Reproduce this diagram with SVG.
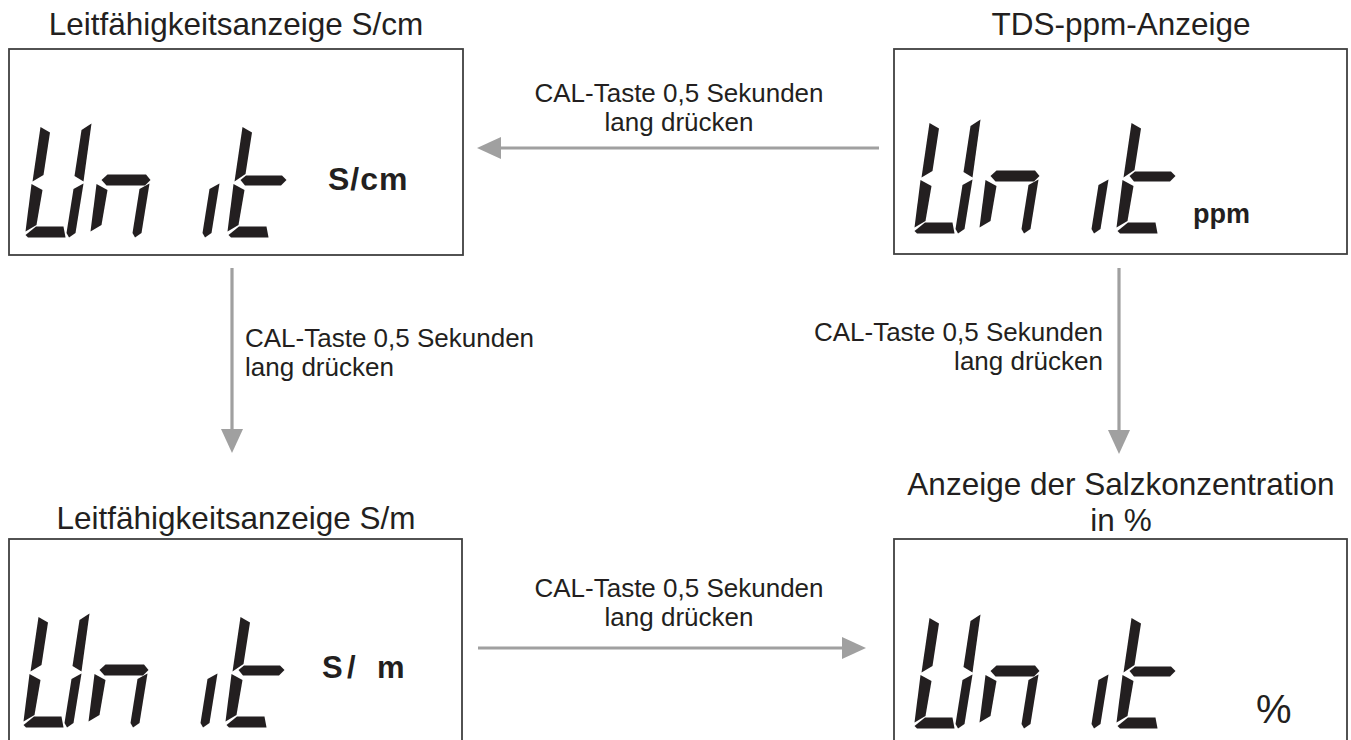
<svg xmlns="http://www.w3.org/2000/svg" xmlns:xlink="http://www.w3.org/1999/xlink" width="1351" height="740" viewBox="0 0 1351 740">
<style>
  .title { font-family: "Liberation Sans", Arial, sans-serif; font-size: 31.5px; fill: #231f20; }
  .label { font-family: "Liberation Sans", Arial, sans-serif; font-size: 26px; fill: #231f20; }
  .unit { font-family: "Liberation Sans", Arial, sans-serif; font-weight: bold; fill: #231f20; }
  .pct { font-family: "Liberation Sans", Arial, sans-serif; font-size: 40px; fill: #231f20; }
  .box { fill: #ffffff; stroke: #404040; stroke-width: 1.8; }
  .seg { fill: #231f20; }
  .conn { stroke: #a0a0a0; stroke-width: 3.2; fill: none; }
</style>
<defs>
  <marker id="arrow" viewBox="0 0 24 22" markerWidth="24" markerHeight="22" refX="1" refY="11" orient="auto" markerUnits="userSpaceOnUse">
    <path d="M0,0 L24,11 L0,22 Z" fill="#a0a0a0"/>
  </marker>
  <g id="lcd-unit" class="seg">
    <!-- U -->
    <polygon points="40.5,127 50,132.5 43.5,175 32.5,181.5"/>
    <polygon points="31.5,184 42.5,190 36.5,225 25.5,231.5"/>
    <polygon points="36,226.5 63.5,226.5 65.5,237.5 28,237.5 25.5,235"/>
    <polygon points="81.5,130 91.5,123.5 83.5,181.5 74.5,176"/>
    <polygon points="73.5,189 83.5,183.5 75.5,233 69,237.5 66.5,233"/>
    <!-- n -->
    <polygon points="101.5,180 107.5,174.5 146,174.5 150.5,180 145,185.5 106.5,185.5"/>
    <polygon points="96.5,184 107.5,190 101.5,225 90.5,231.5"/>
    <polygon points="139.5,189 149.5,183.5 141.5,233 135,237.5 132.5,233"/>
    <!-- i -->
    <polygon points="209.5,189 219.5,183.5 211.5,233 205,237.5 202.5,233"/>
    <!-- t -->
    <polygon points="242.5,127 252,132.5 245.5,174 234.5,181.5"/>
    <polygon points="240.5,180 246,175.5 282,175.5 286.5,180 281,185.5 245,185.5"/>
    <polygon points="233.5,184 244.5,190 238.5,225 227.5,231.5"/>
    <polygon points="239,226.5 266.5,226.5 268.5,237.5 231,237.5 228.5,235"/>
  </g>
</defs>

<g id="connectors">
  <line class="conn" x1="879" y1="148" x2="500" y2="148" marker-end="url(#arrow)"/>
  <line class="conn" x1="232" y1="268" x2="232" y2="430" marker-end="url(#arrow)"/>
  <line class="conn" x1="1119" y1="268" x2="1119" y2="431" marker-end="url(#arrow)"/>
  <line class="conn" x1="478" y1="648" x2="843" y2="648" marker-end="url(#arrow)"/>
</g>

<g id="connector-labels">
  <text class="label" x="679" y="102" text-anchor="middle">CAL-Taste 0,5 Sekunden</text>
  <text class="label" x="679" y="131" text-anchor="middle">lang drücken</text>
  <text class="label" x="245" y="347">CAL-Taste 0,5 Sekunden</text>
  <text class="label" x="245" y="376">lang drücken</text>
  <text class="label" x="1103" y="341" text-anchor="end">CAL-Taste 0,5 Sekunden</text>
  <text class="label" x="1103" y="370" text-anchor="end">lang drücken</text>
  <text class="label" x="679" y="597" text-anchor="middle">CAL-Taste 0,5 Sekunden</text>
  <text class="label" x="679" y="626" text-anchor="middle">lang drücken</text>
</g>

<g id="node-scm">
  <text class="title" x="236" y="35" text-anchor="middle">Leitfähigkeitsanzeige S/cm</text>
  <rect class="box" x="9" y="49" width="454" height="206"/>
  <use xlink:href="#lcd-unit" href="#lcd-unit"/>
  <text class="unit" x="328" y="190" font-size="32" letter-spacing="1">S/cm</text>
</g>

<g id="node-ppm">
  <text class="title" x="1121" y="35" text-anchor="middle">TDS-ppm-Anzeige</text>
  <rect class="box" x="894" y="49" width="453" height="205"/>
  <use xlink:href="#lcd-unit" href="#lcd-unit" transform="translate(889,-4)"/>
  <text class="unit" x="1193" y="223" font-size="27">ppm</text>
</g>

<g id="node-sm">
  <text class="title" x="236" y="529" text-anchor="middle">Leitfähigkeitsanzeige S/m</text>
  <rect class="box" x="9" y="539" width="453" height="230"/>
  <use xlink:href="#lcd-unit" href="#lcd-unit" transform="translate(-2,490)"/>
  <text class="unit" x="322" y="678" font-size="31">S<tspan x="347">/</tspan> <tspan x="377">m</tspan></text>
</g>

<g id="node-salt">
  <text class="title" x="1121" y="495" text-anchor="middle">Anzeige der Salzkonzentration</text>
  <text class="title" x="1121" y="531" text-anchor="middle">in %</text>
  <rect class="box" x="894" y="539" width="453" height="230"/>
  <use xlink:href="#lcd-unit" href="#lcd-unit" transform="translate(889,491)"/>
  <text class="pct" x="1256" y="723">%</text>
</g>
</svg>
